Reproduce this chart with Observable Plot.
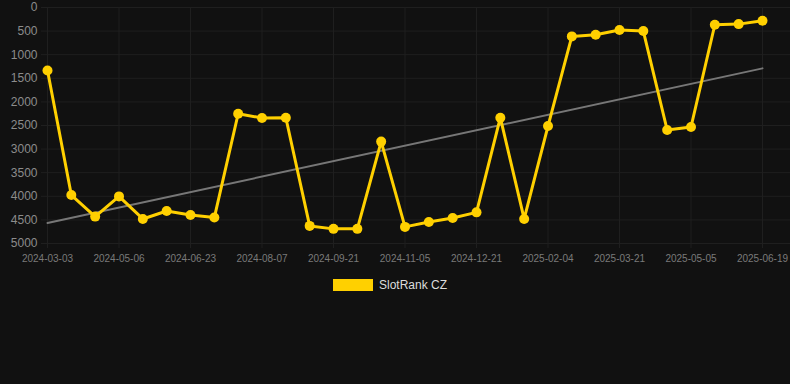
<!DOCTYPE html>
<html>
<head>
<meta charset="utf-8">
<script src="https://cdn.jsdelivr.net/npm/d3@7"></script>
<script src="https://cdn.jsdelivr.net/npm/@observablehq/plot@0.6"></script>
<style>
  html, body { margin: 0; padding: 0; background: #111111; width: 790px; height: 384px; overflow: hidden; }
  body { font-family: "Liberation Sans", Arial, sans-serif; }
  #legend { position: relative; height: 30px; }
  #legend .sw { position: absolute; left: 333px; top: 11px; width: 40px; height: 12px; background: #ffd000; }
  #legend .lb { position: absolute; left: 379px; top: 9px; font-size: 12px; color: #dddddd; line-height: 16px; }
</style>
</head>
<body>
<div id="chart"></div>
<div id="legend"><div class="sw"></div><div class="lb">SlotRank CZ</div></div>
<script>
// Rank values, one per observation (31 observations, equally spaced)
const ranks = [1336, 3973, 4430, 4002, 4480, 4312, 4395, 4451, 2251, 2342, 2335,
               4627, 4690, 4690, 2841, 4648, 4543, 4459, 4340, 2335, 4480,
               2511, 612, 576, 478, 499, 2595, 2532, 366, 352, 281];
// Tick labels shown every third observation
const tickIndex = [0, 3, 6, 9, 12, 15, 18, 21, 24, 27, 30];
const tickLabels = ["2024-03-03", "2024-05-06", "2024-06-23", "2024-08-07", "2024-09-21",
                    "2024-11-05", "2024-12-21", "2025-02-04", "2025-03-21", "2025-05-05", "2025-06-19"];
const yTicks = [0, 500, 1000, 1500, 2000, 2500, 3000, 3500, 4000, 4500, 5000];
const seriesName = "SlotRank CZ";

const data = ranks.map((v, i) => ({i, v}));
const labelOf = new Map(tickIndex.map((t, k) => [t, tickLabels[k]]));

const chart = Plot.plot({
  width: 790,
  height: 268,
  marginLeft: 47,
  marginRight: 28,
  marginTop: 7,
  marginBottom: 25,
  style: {background: "#111111", fontFamily: "Liberation Sans, Arial, sans-serif", overflow: "visible"},
  x: {domain: [0, 30], axis: null, label: null},
  y: {domain: [0, 5000], reverse: true, axis: null, label: null},
  marks: [
    Plot.gridY(yTicks, {stroke: "#1f1f1f", strokeOpacity: 1, strokeWidth: 1, insetLeft: -6, insetRight: -28}),
    Plot.gridX(tickIndex, {stroke: "#1f1f1f", strokeOpacity: 1, strokeWidth: 1, insetBottom: -5}),
    Plot.axisY(yTicks, {tickSize: 0, tickPadding: 10, fontSize: 12, fill: "#8c8c8c", label: null, tickFormat: d => String(d)}),
    Plot.axisX(tickIndex, {tickSize: 0, tickPadding: 11, fontSize: 10, fill: "#7a7a7a", label: null, tickFormat: d => labelOf.get(d)}),
    Plot.linearRegressionY(data, {x: "i", y: "v", ci: 0, stroke: "#777777", strokeWidth: 2}),
    Plot.line(data, {x: "i", y: "v", stroke: "#ffd000", strokeWidth: 3, title: () => seriesName}),
    Plot.dot(data, {x: "i", y: "v", r: 5, fill: "#ffd000", stroke: "none"})
  ]
});
document.getElementById("chart").appendChild(chart);
</script>
</body>
</html>
